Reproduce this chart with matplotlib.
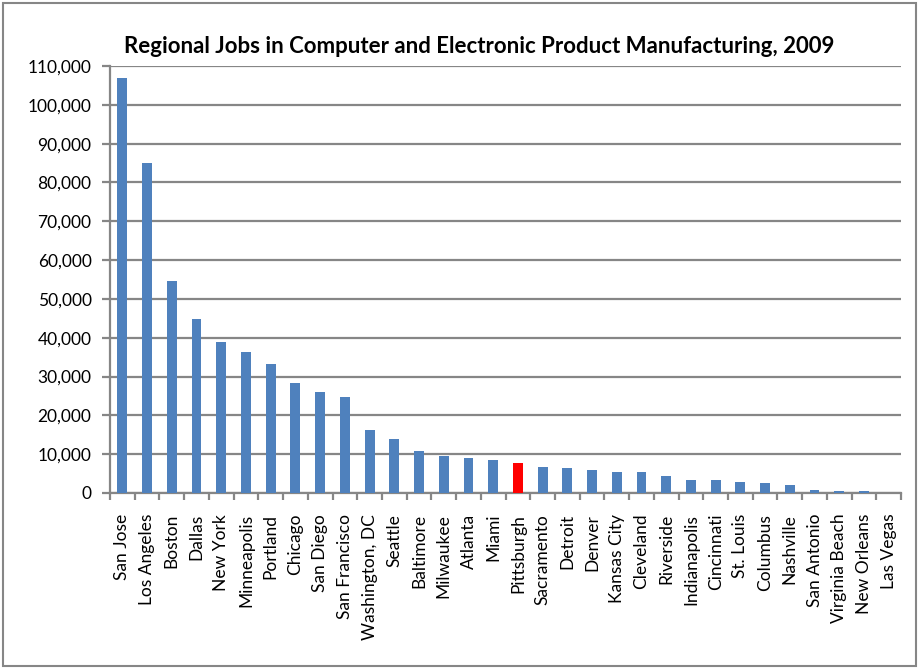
import matplotlib.pyplot as plt
import matplotlib.patches as patches
import numpy as np
from matplotlib.ticker import FuncFormatter

# regions and job counts
regions = ["San Jose", "Los Angeles", "Boston", "Dallas", "New York", "Minneapolis",
           "Portland", "Chicago", "San Diego", "San Francisco", "Washington, DC",
           "Seattle", "Baltimore", "Milwaukee", "Atlanta", "Miami", "Pittsburgh",
           "Sacramento", "Detroit", "Denver", "Kansas City", "Cleveland", "Riverside",
           "Indianapolis", "Cincinnati", "St. Louis", "Columbus", "Nashville",
           "San Antonio", "Virginia Beach", "New Orleans", "Las Vegas"]
jobs = [106800, 84900, 54600, 44800, 38800, 36300, 33200, 28300, 26000, 24700,
        16200, 13800, 10900, 9400, 9100, 8600, 7800, 6800, 6500, 6000, 5300, 5300,
        4500, 3400, 3400, 2900, 2600, 2100, 850, 600, 600, 0]
highlight = "Pittsburgh"

plt.rcParams['font.family'] = ['Lato', 'DejaVu Sans']

fig = plt.figure(figsize=(9.2, 6.71), dpi=100)
ax = fig.add_axes([0.1196, 0.2653, 0.8598, 0.6363])

grey = "#868686"
colors = ["#FF0000" if r == highlight else "#4F81BD" for r in regions]
x = np.arange(len(regions))
ax.bar(x, jobs, width=0.4, color=colors, zorder=3)

ax.set_xlim(-0.5, len(regions) - 0.5)
ax.set_ylim(0, 110000)
ax.set_yticks(np.arange(0, 110001, 10000))
ax.yaxis.set_major_formatter(FuncFormatter(lambda v, p: "{:,.0f}".format(v)))
ax.grid(axis="y", color=grey, linewidth=1.6, zorder=0)

ax.set_xticks(x)
ax.set_xticklabels(regions, rotation=90, fontsize=12.5)
ax.tick_params(axis="x", which="major", length=0, pad=15)
ax.set_xticks(np.arange(-0.5, len(regions), 1), minor=True)
ax.tick_params(axis="x", which="minor", length=5, width=1.6, color=grey)
ax.tick_params(axis="y", length=5.8, width=1.6, color=grey, labelsize=12.5, pad=7.5)

for s in ["top", "right"]:
    ax.spines[s].set_visible(False)
for s in ["left", "bottom"]:
    ax.spines[s].set_color(grey)
    ax.spines[s].set_linewidth(1.6)

fig.text(0.5207, 0.93, "Regional Jobs in Computer and Electronic Product Manufacturing, 2009",
         ha="center", va="center", fontsize=16, fontweight="bold")

# chart border
fig.patches.append(patches.Rectangle((0.003, 0.008), 0.993, 0.988, transform=fig.transFigure,
                                     fill=False, edgecolor=grey, linewidth=1.5))

fig.savefig("out.png", dpi=100)
